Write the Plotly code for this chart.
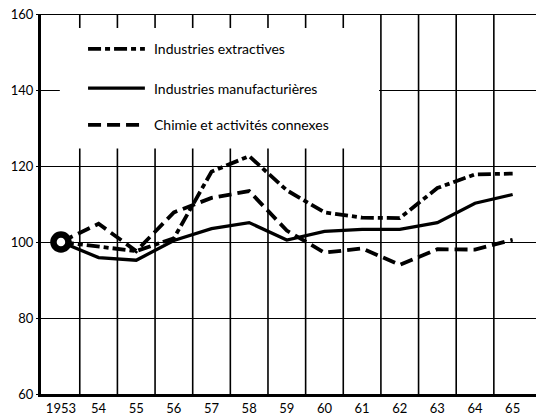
import plotly.graph_objects as go

years = [1953, 1954, 1955, 1956, 1957, 1958, 1959, 1960, 1961, 1962, 1963, 1964, 1965]
tick_labels = ["1953", "54", "55", "56", "57", "58", "59", "60", "61", "62", "63", "64", "65"]
extractives = [100, 98.9, 97.6, 101.0, 118.5, 122.6, 113.6, 107.8, 106.4, 106.3, 114.2, 117.8, 118.0]
manufacturieres = [100, 95.9, 95.2, 100.4, 103.5, 105.1, 100.5, 102.8, 103.3, 103.3, 105.1, 110.2, 112.5]
chimie = [100, 104.8, 97.6, 107.8, 111.6, 113.4, 103.0, 97.2, 98.3, 94.0, 98.1, 98.0, 100.6]
names = ["Industries extractives", "Industries manufacturières", "Chimie et activités connexes"]
y_ticks = [60, 80, 100, 120, 140, 160]

FONT = "Lato"
X0, X1 = 1952.47, 1965.62
Y0, Y1 = 60, 160

fig = go.Figure()

styles = [
    dict(color="black", width=3.8, dash="13px,4px,5px,4px"),
    dict(color="black", width=3.3),
    dict(color="black", width=3.8, dash="13px,6px"),
]
series = [extractives, manufacturieres, chimie]
for nm, vals, st in zip(names, series, styles):
    fig.add_trace(go.Scatter(x=years, y=vals, mode="lines", name=nm, line=st,
                             showlegend=False, hoverinfo="skip"))

# starting base point marker
fig.add_trace(go.Scatter(x=[years[0]], y=[manufacturieres[0]], mode="markers",
                         marker=dict(size=15, color="white",
                                     line=dict(color="black", width=6.5)),
                         showlegend=False, hoverinfo="skip"))

shapes = []
# vertical grid lines between years
for yv in years[:-1]:
    shapes.append(dict(type="line", xref="x", yref="y", x0=yv + 0.5, x1=yv + 0.5,
                       y0=Y0, y1=Y1, line=dict(color="black", width=1.6), layer="below"))
# top border
shapes.append(dict(type="line", xref="paper", yref="y", x0=0, x1=1, y0=Y1, y1=Y1,
                   line=dict(color="black", width=2.2), layer="below"))
# white legend box covering grid
shapes.append(dict(type="rect", xref="x", yref="y", x0=1952.97, x1=1961.45,
                   y0=124.6, y1=156.3, fillcolor="white", line=dict(width=0),
                   layer="between"))

# legend samples
leg_y = [150.8, 140.5, 130.8]
lx0, lx1 = 1953.72, 1955.23
annotations = []
for nm, st, ly in zip(names, styles, leg_y):
    shapes.append(dict(type="line", xref="x", yref="y", x0=lx0, x1=lx1, y0=ly, y1=ly,
                       line=st, layer="above"))
    annotations.append(dict(x=1955.42, y=ly, xref="x", yref="y", text=nm,
                            showarrow=False, xanchor="left", yanchor="middle",
                            font=dict(family=FONT, size=14, color="black")))

fig.update_layout(
    width=536, height=415,
    margin=dict(l=41, r=0, t=14, b=21),
    paper_bgcolor="white", plot_bgcolor="white",
    shapes=shapes, annotations=annotations,
    showlegend=False,
    xaxis=dict(range=[X0, X1], tickvals=years, ticktext=tick_labels,
               showgrid=False, zeroline=False, showline=True, linecolor="black",
               linewidth=3, ticks="", tickfont=dict(family=FONT, size=13, color="black")),
    yaxis=dict(range=[Y0, Y1], tickvals=y_ticks, showgrid=True, gridcolor="black",
               gridwidth=1.4, zeroline=False, showline=True, linecolor="black",
               linewidth=3, ticks="outside", ticklen=2, tickcolor="black",
               tickfont=dict(family=FONT, size=13, color="black")),
)

fig.write_html("out.html", config={"displayModeBar": False},
               post_script="document.body.style.margin='0';document.body.style.overflow='hidden';")
